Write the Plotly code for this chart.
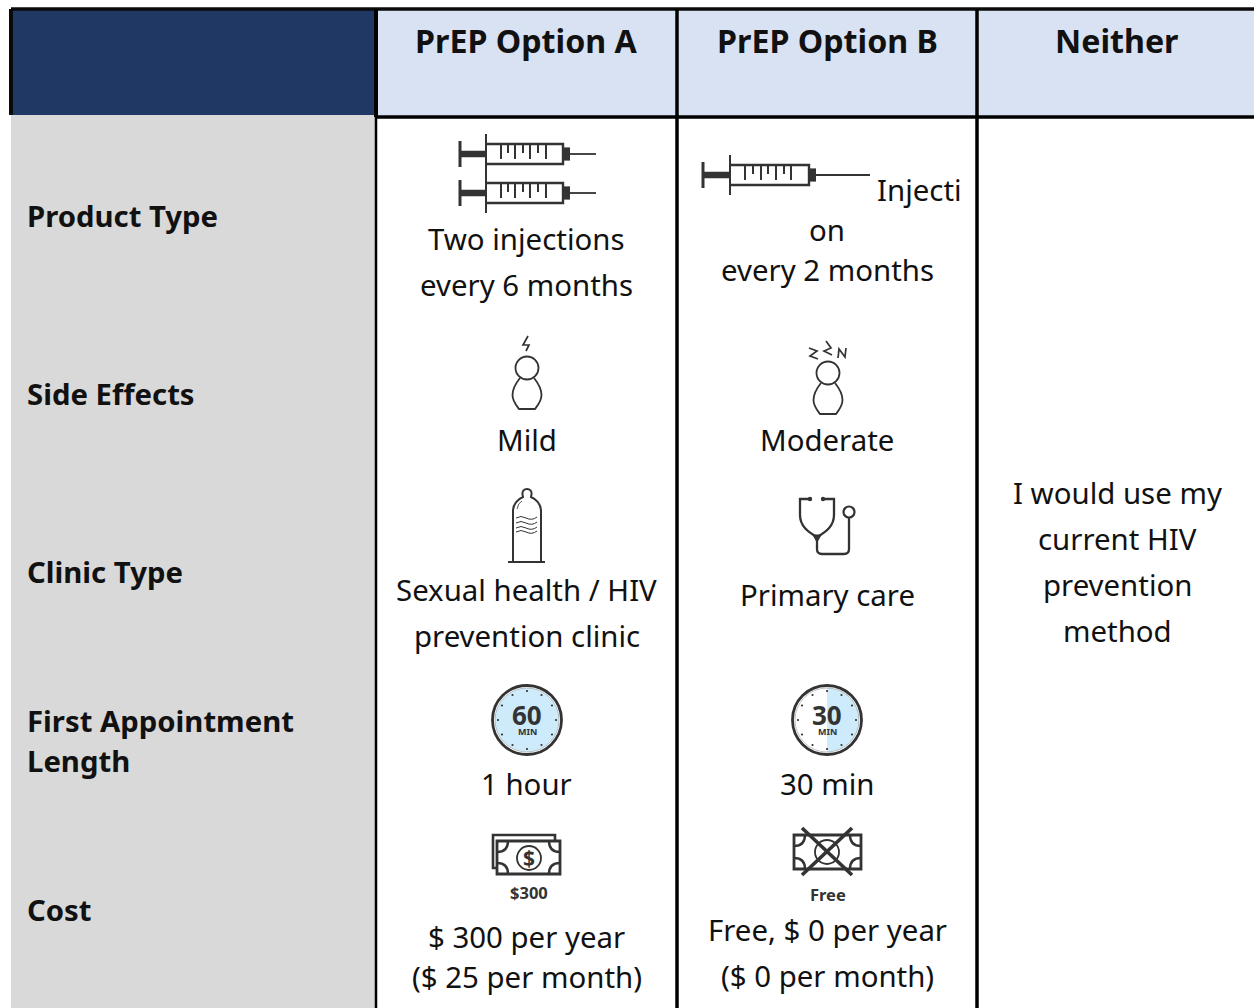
import plotly.graph_objects as go

# ---------- table content ----------
headers = ["PrEP Option A", "PrEP Option B", "Neither"]
row_labels = ["Product Type", "Side Effects", "Clinic Type", "First Appointment", "Length", "Cost"]
row_label_y = [216, 394, 571.5, 720.5, 760.5, 910]
header_x = [526.5, 827, 1117]
option_a_lines = ["Two injections", "every 6 months", "Mild", "Sexual health / HIV", "prevention clinic",
                  "1 hour", "$ 300 per year", "($ 25 per month)"]
option_a_y = [238.5, 284.5, 439.5, 589.5, 635.5, 783.5, 936.5, 976.5]
option_b_lines = ["on", "every 2 months", "Moderate", "Primary care", "30 min",
                  "Free, $ 0 per year", "($ 0 per month)"]
option_b_y = [229.5, 269.5, 439.5, 594.5, 783.5, 929.5, 975.5]
neither_lines = ["I would use my", "current HIV", "prevention", "method"]
neither_y = [492.5, 538.5, 584.5, 630.5]

NAVY, HEAD, GREY, INK, BLUE = "#1F3864", "#D9E2F3", "#D9D9D9", "#333333", "#CDEBFA"
FONT = "Noto Sans"
BODY = 29.4
BOLD = 29.3
HEAD_SIZE = 32.2

shapes, annos = [], []


def rect(x0, y0, x1, y1, fill=None, line=None, w=0, layer="above"):
    shapes.append(dict(type="rect", xref="x", yref="y", x0=x0, y0=y0, x1=x1, y1=y1,
                       fillcolor=fill or "rgba(0,0,0,0)", layer=layer,
                       line=dict(color=line or "rgba(0,0,0,0)", width=w)))


def seg(x0, y0, x1, y1, w=2, c=INK):
    shapes.append(dict(type="line", xref="x", yref="y", x0=x0, y0=y0, x1=x1, y1=y1,
                       line=dict(color=c, width=w)))


def path(d, w=2, c=INK, fill=None):
    shapes.append(dict(type="path", xref="x", yref="y", path=d, fillcolor=fill or "rgba(0,0,0,0)",
                       line=dict(color=c, width=w)))


def circle(cx, cy, r, w=2, c=INK, fill=None):
    shapes.append(dict(type="circle", xref="x", yref="y", x0=cx - r, x1=cx + r, y0=cy - r, y1=cy + r,
                       fillcolor=fill or "rgba(0,0,0,0)", line=dict(color=c, width=w)))


def text(s, x, y, size=BODY, bold=False, anchor="center", color="#111111"):
    annos.append(dict(text=f"<b>{s}</b>" if bold else s, x=x, y=y, xref="x", yref="y",
                      xanchor=anchor, yanchor="middle", showarrow=False, align=anchor,
                      font=dict(family=FONT, size=size, color=color)))


def syringe(end, flange, barrel, hub, tip, cy, ticks, h):
    seg(end, cy - h * 0.65, end, cy + h * 0.65, 3)
    seg(end, cy, flange, cy, 6.5)
    seg(flange, cy - h, flange, cy + h, 2)
    path(f"M{flange},{cy-h/2} L{barrel},{cy-h/2} L{barrel},{cy+h/2} L{flange},{cy+h/2}", 2.4)
    rect(barrel, cy - h * 0.33, hub, cy + h * 0.33, INK)
    seg(hub, cy, tip, cy, 1.8)
    for i, t in enumerate(ticks):
        seg(t, cy - h / 2, t, cy - h / 2 + (15 if i % 2 == 0 else 9), 2)


def person(cx, head_y, bottom):
    circle(cx, head_y, 11.5, 1.8)
    top = head_y + 10
    path(f"M{cx-7},{top} C{cx-11},{top+5} {cx-14.5},{top+10} {cx-14.5},{top+17} "
         f"C{cx-14.5},{top+23} {cx-11},{bottom-4} {cx-8},{bottom} L{cx+8},{bottom} "
         f"C{cx+11},{bottom-4} {cx+14.5},{top+23} {cx+14.5},{top+17} "
         f"C{cx+14.5},{top+10} {cx+11},{top+5} {cx+7},{top}", 1.8)


def clock(cx, cy, full, label):
    circle(cx, cy, 34, 0, fill="#FFFFFF")
    if full:
        circle(cx, cy, 32, 0, fill=BLUE)
    else:
        path(f"M{cx},{cy-32} C{cx+17.7},{cy-32} {cx+32},{cy-17.7} {cx+32},{cy} "
             f"C{cx+32},{cy+17.7} {cx+17.7},{cy+32} {cx},{cy+32} Z", 0, c=BLUE, fill=BLUE)
    circle(cx, cy, 34.5, 2.8)
    circle(cx, cy, 32, 0.6, c="#999999")
    offs = [(0, -29), (14.5, -25), (25, -14.5), (29, 0), (25, 14.5), (14.5, 25),
            (0, 29), (-14.5, 25), (-25, 14.5), (-29, 0), (-25, -14.5), (-14.5, -25)]
    for dx, dy in offs:
        circle(cx + dx, cy + dy, 1.1, 0, fill=INK)
    text(label, cx, cy - 5, 26, True, color=INK)
    text("MIN", cx, cy + 11, 9, True, color=INK)


def bill(x0, y0, x1, y1, r=11):
    rect(x0, y0, x1, y1, "#FFFFFF", INK, 2.8)
    path(f"M{x0},{y0+r} Q{x0+r},{y0+r} {x0+r},{y0}", 2.4)
    path(f"M{x1-r},{y0} Q{x1-r},{y0+r} {x1},{y0+r}", 2.4)
    path(f"M{x0},{y1-r} Q{x0+r},{y1-r} {x0+r},{y1}", 2.4)
    path(f"M{x1-r},{y1} Q{x1-r},{y1-r} {x1},{y1-r}", 2.4)


# ---------- table frame ----------
rect(11, 115, 375, 1008, GREY, layer="below")
rect(11, 9, 375, 115, NAVY, layer="below")
rect(376, 9, 1254, 117, HEAD, layer="below")
seg(11, 9, 1254, 9, 3.5, "#0A0A0A")
seg(11, 9, 11, 115, 4, "#0A0A0A")
seg(376, 117, 1254, 117, 3.5, "#000000")
seg(376, 9, 376, 117, 4, "#000000")
seg(376, 117, 376, 1008, 2.5, "#000000")
seg(677, 9, 677, 1008, 3.5, "#000000")
seg(977, 9, 977, 1008, 3.5, "#000000")

# ---------- icons ----------
ticks_a = [501, 508, 515, 523, 530, 538, 546]
syringe(460, 486, 563, 570, 596, 154, ticks_a, 20)
syringe(460, 486, 563, 570, 596, 193, ticks_a, 20)
ticks_b = [745, 753, 761, 768, 776, 784, 791]
syringe(703, 730, 809, 816, 870, 175, ticks_b, 20)

# side effects
person(527, 368, 409)
path("M528,336 L523,345 L529,345 L526,351", 1.7)
person(828, 373, 414)
path("M809,348 L817,351 L810,356 L818,359", 1.7)
path("M826,341 L831,348 L824,351 L832,355", 1.7)
path("M838,358 L839,349 L845,357 L846,348", 1.7)

# condom
path("M513,562 L513,511 C513,504 518,499 523,497 C521,490 525,489 527,489 "
     "C529,489 533,490 531,497 C536,499 541,504 541,511 L541,562", 2)
seg(508, 562, 545, 562, 2)
path("M517,509 Q518,503 522,501", 0.8)
for wy in [518, 523, 528, 532]:
    path(f"M516,{wy} Q521,{wy-3} 526,{wy} Q532,{wy+3} 537,{wy-1}", 1)

# stethoscope
path("M809,499 L800,499 L800,515 C800,526 808,532 817,537 C826,532 834,526 834,515 L834,499 L824,499", 2.3)
circle(810, 499, 2.2, 0, fill=INK)
circle(823, 499, 2.2, 0, fill=INK)
path("M813,535 L821,535 L817,542 Z", 1, fill=INK)
path("M817,538 L817,549 Q817,554 822,554 L844,554 Q849,554 849,549 L849,518", 2.3)
circle(849, 512, 5.5, 2.2)

# clocks
clock(527, 720, True, "60")
clock(827, 720, False, "30")

# money
path("M497,868 L493,868 L493,835 L555,835 L555,841", 2.6)
bill(497, 841, 560, 874)
circle(529, 858, 12, 1.8)
text("$", 529, 857.5, 21, True, color=INK)
text("$300", 528.5, 892.5, 16.5, True, color=INK)

bill(794, 835, 861, 869)
circle(827, 852, 12, 1.8)
seg(802, 828, 852, 875, 3.6)
seg(852, 828, 802, 875, 3.6)
text("Free", 827.5, 894.5, 16.5, True, color=INK)

# ---------- text ----------
for s, x in zip(headers, header_x):
    text(s, x, 40.5, HEAD_SIZE, True)
for s, y in zip(row_labels, row_label_y):
    text(s, 24.5, y, BOLD, True, anchor="left")
for s, y in zip(option_a_lines, option_a_y):
    text(s, 526.5, y, BODY)
text("Injecti", 875, 189.5, BODY, anchor="left")
for s, y in zip(option_b_lines, option_b_y):
    text(s, 827, y, BODY)
for s, y in zip(neither_lines, neither_y):
    text(s, 1117, y, BODY)

fig = go.Figure(go.Scatter(x=[0, 1254], y=[0, 1008], mode="markers", marker=dict(opacity=0),
                           hoverinfo="skip", showlegend=False))
fig.update_layout(width=1254, height=1008, margin=dict(l=0, r=0, t=0, b=0),
                  paper_bgcolor="white", plot_bgcolor="white", shapes=shapes, annotations=annos,
                  font=dict(family=FONT),
                  xaxis=dict(range=[0, 1254], visible=False, fixedrange=True),
                  yaxis=dict(range=[1008, 0], visible=False, fixedrange=True))
fig.write_html("out.html", config=dict(displayModeBar=False),
               post_script="document.body.style.margin='0';document.documentElement.style.overflow='hidden';")
